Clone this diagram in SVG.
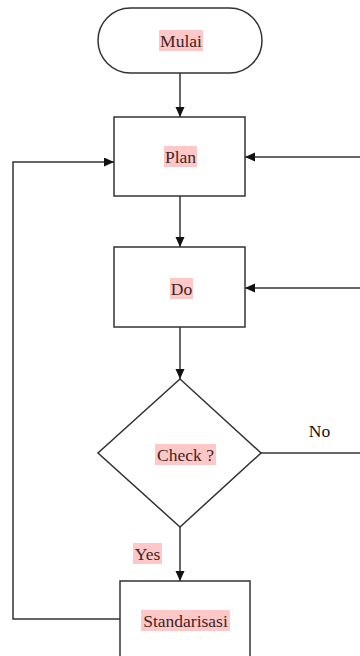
<svg xmlns="http://www.w3.org/2000/svg" width="360" height="656" viewBox="0 0 360 656">
<style>
.shape{fill:#fff;stroke:#333;stroke-width:1.5}
.conn{fill:none;stroke:#333;stroke-width:1.5}
.hl{fill:#ffc8c8}
.lbl{font-family:'Liberation Serif','DejaVu Serif',serif;font-size:17.5px;fill:#3d2424;text-anchor:middle}
.plain{font-family:'Liberation Serif','DejaVu Serif',serif;font-size:17.5px;fill:#111;text-anchor:middle}
</style>
<defs>
<marker id="arr" markerUnits="userSpaceOnUse" markerWidth="11" markerHeight="10" refX="10" refY="4.5" orient="auto">
<path d="M0,0 L10,4.5 L0,9 z" fill="#111"/>
</marker>
</defs>
<rect width="360" height="656" fill="#fff"/>
<g id="connectors">
<line class="conn" x1="180" y1="73" x2="180" y2="117" marker-end="url(#arr)"/>
<line class="conn" x1="180" y1="196" x2="180" y2="247" marker-end="url(#arr)"/>
<line class="conn" x1="180" y1="327" x2="180" y2="379" marker-end="url(#arr)"/>
<line class="conn" x1="180" y1="527" x2="180" y2="581" marker-end="url(#arr)"/>
<line class="conn" x1="360" y1="157" x2="245" y2="157" marker-end="url(#arr)"/>
<line class="conn" x1="360" y1="288" x2="245" y2="288" marker-end="url(#arr)"/>
<line class="conn" x1="261" y1="453" x2="360" y2="453"/>
<polyline class="conn" points="120,619 13,619 13,162 114,162" marker-end="url(#arr)"/>
<text class="plain" x="319.5" y="437" font-family="Liberation Serif, serif">No</text>
<rect class="hl" x="133" y="543" width="29" height="21"/>
<text class="lbl" x="147.5" y="559.5" font-family="Liberation Serif, serif">Yes</text>
</g>
<g id="mulai">
<rect class="shape" x="98" y="8" width="164" height="65" rx="32.5" ry="32.5"/>
<rect class="hl" x="159" y="30" width="44" height="21"/>
<text class="lbl" x="181" y="46.5" font-family="Liberation Serif, serif">Mulai</text>
</g>
<g id="plan">
<rect class="shape" x="114" y="117" width="131" height="79"/>
<rect class="hl" x="164" y="146" width="33" height="21"/>
<text class="lbl" x="180.5" y="162.5" font-family="Liberation Serif, serif">Plan</text>
</g>
<g id="do">
<rect class="shape" x="114" y="247" width="131" height="80"/>
<rect class="hl" x="170" y="278" width="23" height="21"/>
<text class="lbl" x="181.5" y="294.5" font-family="Liberation Serif, serif">Do</text>
</g>
<g id="check">
<polygon class="shape" points="180,379 261,453 180,527 98,453"/>
<rect class="hl" x="155" y="444" width="61" height="21"/>
<text class="lbl" x="185.5" y="460.5" font-family="Liberation Serif, serif">Check ?</text>
</g>
<g id="standarisasi">
<rect class="shape" x="120" y="581" width="130" height="90"/>
<rect class="hl" x="141" y="610" width="89" height="21"/>
<text class="lbl" x="185.5" y="626.5" font-family="Liberation Serif, serif">Standarisasi</text>
</g>
</svg>
